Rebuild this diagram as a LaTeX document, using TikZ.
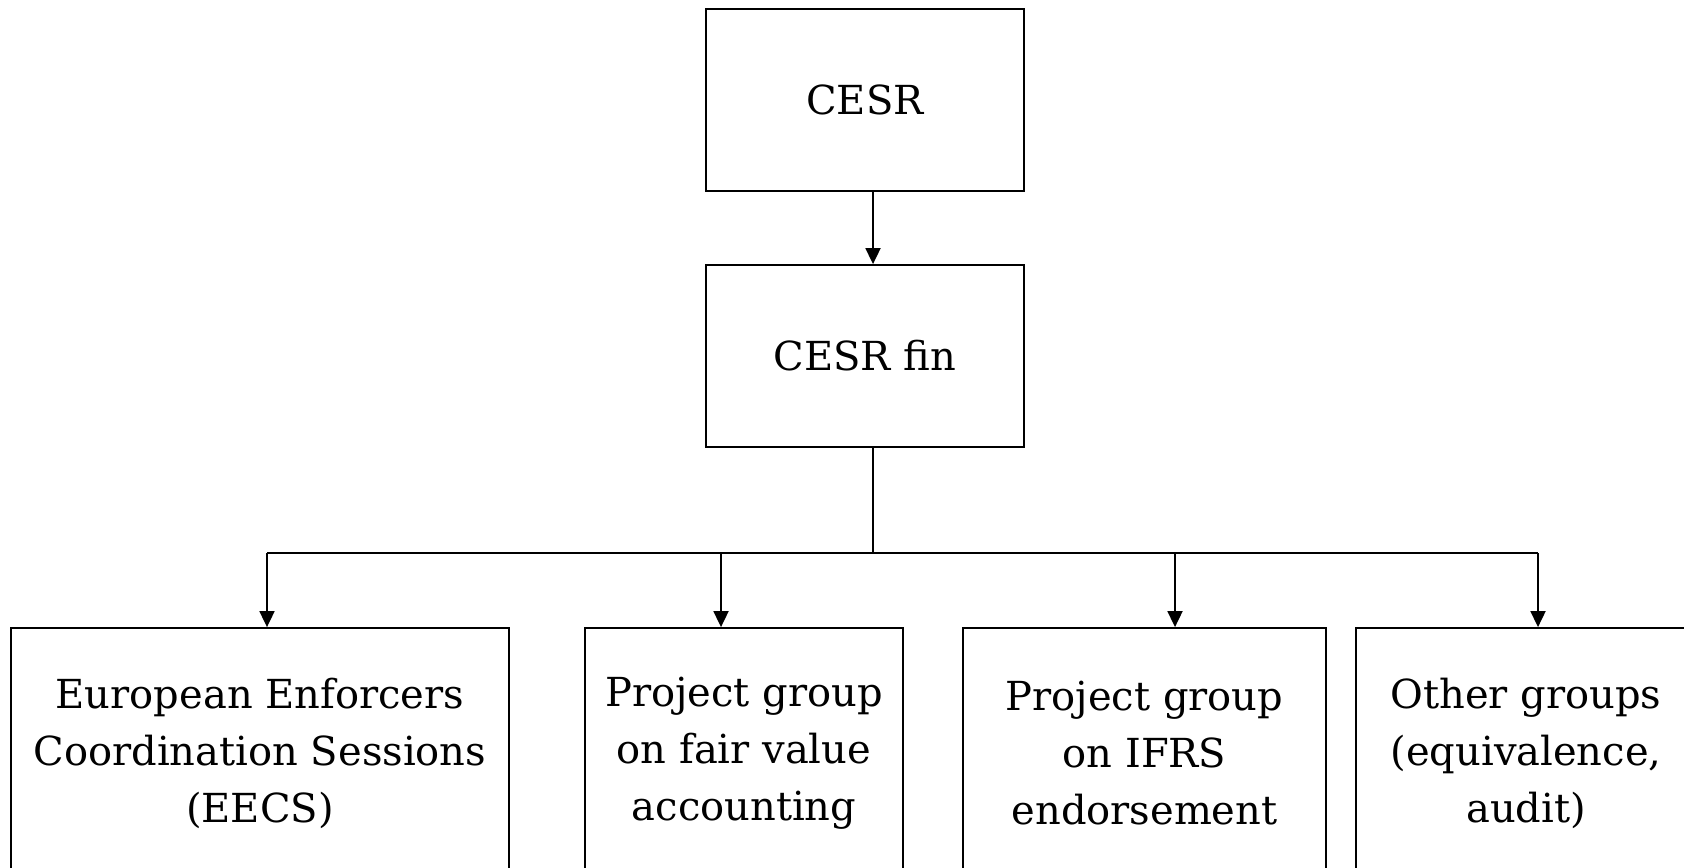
\documentclass[tikz,border=0pt]{standalone}
\usepackage{fontspec}
\setmainfont{DejaVu Serif}
\usetikzlibrary{arrows.meta}
\begin{document}
\begin{tikzpicture}[x=0.5pt,y=-0.5pt,
        box/.style={draw,line width=0.9pt,align=center,inner sep=2pt,
            font=\fontsize{20}{28.5}\selectfont},
        link/.style={line width=0.9pt},
        arr/.style={link,-{Triangle[length=8pt,width=7.5pt]}}]
        \useasboundingbox (0,0) rectangle (1684,867);
        \clip (0,0) rectangle (1684,867);

        \node[box,minimum width=159pt,minimum height=91pt] (cesr) at (865,100){CESR};
        \node[box,minimum width=159pt,minimum height=91pt] (fin) at (865,356){CESR fin};

        \node[box,minimum width=249pt,minimum height=125pt] (eecs) at (260,753){European Enforcers\\Coordination Sessions\\(EECS)};
        \node[box,minimum width=159pt,minimum height=125pt] (fair) at (744,753){Project group\\on fair value\\accounting};
        \node[box,minimum width=181.5pt,minimum height=125pt] (ifrs) at (1144.5,753){Project group\\on IFRS\\endorsement};
        \node[box,minimum width=170pt,minimum height=125pt] (other) at (1526,753){Other groups\\(equivalence,\\audit)};

        \coordinate (trunk) at (873,553);
        \coordinate (j1) at (267,553);
        \coordinate (j2) at (721,553);
        \coordinate (j3) at (1175,553);
        \coordinate (j4) at (1538,553);

        \draw[arr] (cesr.south -| trunk) -- (fin.north -| trunk);
        \draw[link] (fin.south -| trunk) -- (trunk);
        \draw[link] (j1) -- (j4);
        \draw[arr] (j1) -- (eecs.north -| j1);
        \draw[arr] (j2) -- (fair.north -| j2);
        \draw[arr] (j3) -- (ifrs.north -| j3);
        \draw[arr] (j4) -- (other.north -| j4);
    \end{tikzpicture}
\end{document}
